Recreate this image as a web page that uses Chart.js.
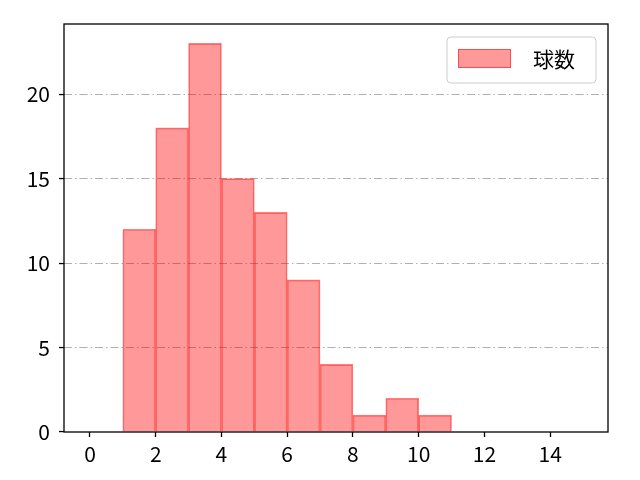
<!DOCTYPE html>
<html>
<head>
<meta charset="utf-8">
<script src="https://cdn.jsdelivr.net/npm/chart.js@4"></script>
<style>
  html, body { margin: 0; padding: 0; background: #fff; }
  #wrap { width: 640px; height: 480px; }
</style>
</head>
<body>
<div id="wrap"><canvas id="c" width="640" height="480"></canvas></div>
<script>
// ---- data ----
const seriesLabel = "球数";
const binEdges = [1, 2, 3, 4, 5, 6, 7, 8, 9, 10, 11];
const counts = [12, 18, 23, 15, 13, 9, 4, 1, 2, 1];
const xTicks = [0, 2, 4, 6, 8, 10, 12, 14];
const yTicks = [0, 5, 10, 15, 20];
const xRange = [-0.79, 15.76];
const yRange = [0, 24.15];

const FONT = '"Noto Sans CJK JP", "Noto Sans", sans-serif';
const FONT_SIZE = 21;
const barFill = 'rgba(255, 0, 0, 0.4)';
const barEdge = 'rgba(255, 0, 0, 0.5)';

const points = counts.map((c, i) => ({ x: (binEdges[i] + binEdges[i + 1]) / 2, y: c }));

const framePlugin = {
  id: 'frame',
  afterDraw(chart) {
    const { ctx, chartArea: a } = chart;
    ctx.save();
    ctx.strokeStyle = '#000';
    ctx.lineWidth = 1.3;
    ctx.strokeRect(a.left, a.top, a.right - a.left, a.bottom - a.top);

    // legend
    const bw = 149, bh = 46;
    const bx = a.right - 12 - bw, by = a.top + 13;
    const r = 4;
    ctx.beginPath();
    ctx.moveTo(bx + r, by);
    ctx.arcTo(bx + bw, by, bx + bw, by + bh, r);
    ctx.arcTo(bx + bw, by + bh, bx, by + bh, r);
    ctx.arcTo(bx, by + bh, bx, by, r);
    ctx.arcTo(bx, by, bx + bw, by, r);
    ctx.closePath();
    ctx.fillStyle = 'rgba(255,255,255,0.8)';
    ctx.fill();
    ctx.strokeStyle = '#cccccc';
    ctx.lineWidth = 1;
    ctx.stroke();

    ctx.fillStyle = barFill;
    ctx.fillRect(bx + 11, by + 12, 53, 19);
    ctx.strokeStyle = barEdge;
    ctx.strokeRect(bx + 11.5, by + 12.5, 52, 18);

    ctx.fillStyle = '#000';
    ctx.font = FONT_SIZE + 'px ' + FONT;
    ctx.textBaseline = 'middle';
    ctx.textAlign = 'left';
    ctx.fillText(chart.data.datasets[0].label, bx + 86, by + 22);
    ctx.restore();
  }
};

new Chart(document.getElementById('c'), {
  type: 'bar',
  data: {
    datasets: [{
      label: seriesLabel,
      data: points,
      backgroundColor: barFill,
      borderColor: barEdge,
      borderWidth: 1,
      barPercentage: 1.0,
      categoryPercentage: 1.0,
      grouped: false
    }]
  },
  options: {
    responsive: false,
    animation: false,
    devicePixelRatio: 1,
    layout: { padding: { left: 0, right: 32, top: 24, bottom: 0 } },
    plugins: { legend: { display: false }, tooltip: { enabled: false } },
    scales: {
      x: {
        type: 'linear',
        offset: false,
        min: xRange[0],
        max: xRange[1],
        afterBuildTicks(s) { s.ticks = xTicks.map(v => ({ value: v })); },
        afterFit(s) { s.height = 48; },
        grid: {
          display: true,
          drawOnChartArea: false,
          drawTicks: true,
          tickLength: 5,
          tickColor: '#000',
          tickWidth: 1.3,
          offset: false
        },
        border: { display: false },
        ticks: {
          color: '#000',
          font: { family: FONT, size: FONT_SIZE },
          padding: 4,
          maxRotation: 0,
          autoSkip: false
        }
      },
      y: {
        type: 'linear',
        min: yRange[0],
        max: yRange[1],
        z: 1,
        afterBuildTicks(s) { s.ticks = yTicks.map(v => ({ value: v })); },
        afterFit(s) { s.width = 64; },
        grid: {
          display: true,
          drawOnChartArea: true,
          drawTicks: true,
          color: (ctx) => (ctx.tick && ctx.tick.value === 0) ? 'rgba(0,0,0,0)' : '#b0b0b0',
          lineWidth: 1.1,
          tickLength: 5,
          tickColor: '#000',
          tickWidth: 1.3,
          tickBorderDash: [],
          borderDash: [8, 3, 1.5, 3]
        },
        border: { display: false, dash: [8, 3, 1.5, 3] },
        ticks: {
          color: '#000',
          font: { family: FONT, size: FONT_SIZE },
          padding: 9,
          autoSkip: false
        }
      }
    }
  },
  plugins: [framePlugin]
});
</script>
</body>
</html>
